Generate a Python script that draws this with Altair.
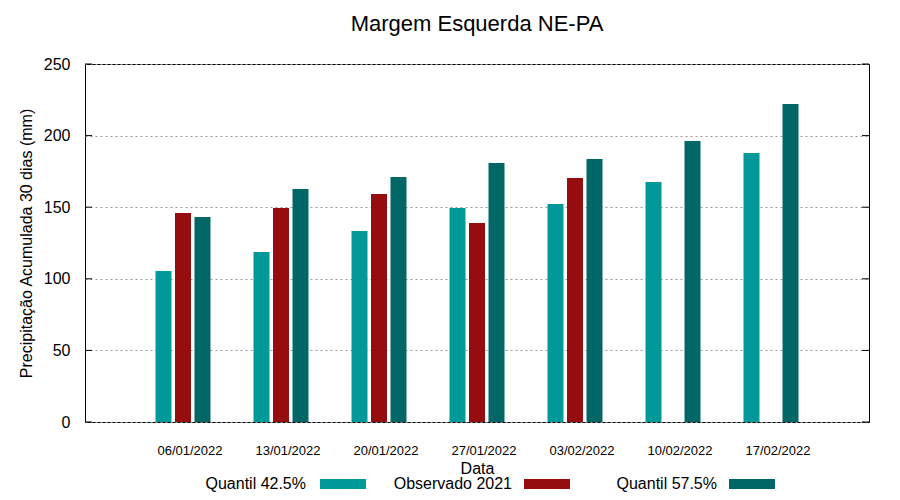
import altair as alt
import pandas as pd

dates = ["06/01/2022", "13/01/2022", "20/01/2022", "27/01/2022", "03/02/2022", "10/02/2022", "17/02/2022"]
series = ["Quantil 42.5%", "Observado 2021", "Quantil 57.5%"]
colors = ["#009999", "#960d10", "#006666"]
q425 = [105.5, 118.7, 133.4, 149.4, 152.2, 167.6, 187.8]
obs = [146.0, 149.4, 159.2, 139.0, 170.4, None, None]
q575 = [143.2, 162.7, 171.1, 180.9, 183.7, 196.2, 222.0]
y_ticks = [0, 50, 100, 150, 200, 250]

rows = []
for name, vals in zip(series, [q425, obs, q575]):
    for d, v in zip(dates, vals):
        rows.append({"Data": d, "serie": name, "valor": v})
df = pd.DataFrame(rows)
df = df.dropna()

FONT = "Liberation Sans"

bars = alt.Chart(df).mark_bar().encode(
    x=alt.X("Data:N", sort=dates,
            scale=alt.Scale(paddingInner=0.24, paddingOuter=0.62),
            axis=alt.Axis(title="Data", labelAngle=0, ticks=False, domain=False,
                          labelOffset=7, labelPadding=22, labelFontSize=13,
                          titleFontSize=16, titlePadding=3, titleFontWeight="normal",
                          labelFont=FONT, titleFont=FONT, labelColor="black", titleColor="black")),
    xOffset=alt.XOffset("serie:N", sort=series,
                        scale=alt.Scale(paddingInner=0.18, paddingOuter=0.5)),
    y=alt.Y("valor:Q", scale=alt.Scale(domain=[0, 250], nice=False),
            axis=alt.Axis(title="Precipitação Acumulada 30 dias (mm)", values=y_ticks,
                          ticks=False, domain=False, labelPadding=15, labelFontSize=16,
                          titleFontSize=16, titlePadding=9, titleFontWeight="normal",
                          labelFont=FONT, titleFont=FONT, labelColor="black", titleColor="black",
                          grid=True, gridDash=[2, 3], gridColor="#999999", gridWidth=1)),
    color=alt.Color("serie:N", scale=alt.Scale(domain=series, range=colors), legend=None),
)

tick_df = pd.DataFrame({"valor": y_ticks})
left_ticks = alt.Chart(tick_df).mark_rule(color="black", strokeWidth=1).encode(
    y=alt.Y("valor:Q"), x=alt.value(0), x2=alt.value(7))
right_ticks = alt.Chart(tick_df).mark_rule(color="black", strokeWidth=1).encode(
    y=alt.Y("valor:Q"), x=alt.value(777), x2=alt.value(784))

text_ends = [221, 427, 632]
sw_x = [235, 439, 644]
layers = [bars, left_ticks, right_ticks]
for name, col, te, sx in zip(series, colors, text_ends, sw_x):
    ldf = pd.DataFrame({"serie": [name]})
    layers.append(alt.Chart(ldf).mark_text(align="right", baseline="middle", fontSize=16,
                                           font=FONT, color="black").encode(
        x=alt.value(te), y=alt.value(420), text="serie:N"))
    layers.append(alt.Chart(ldf).mark_rect(color=col).encode(
        x=alt.value(sx), x2=alt.value(sx + 46), y=alt.value(415), y2=alt.value(425)))

chart = alt.layer(*layers).properties(
    width=784, height=358,
    title=alt.TitleParams("Margem Esquerda NE-PA", fontSize=22, font=FONT,
                          fontWeight="normal", color="black", offset=20, anchor="middle"),
    autosize=alt.AutoSizeParams(type="none"),
    padding={"left": 77, "top": 56, "right": 15, "bottom": 70},
).configure_view(stroke="black", strokeWidth=1)

chart.save("out.html", embed_options={"renderer": "svg", "actions": False})
